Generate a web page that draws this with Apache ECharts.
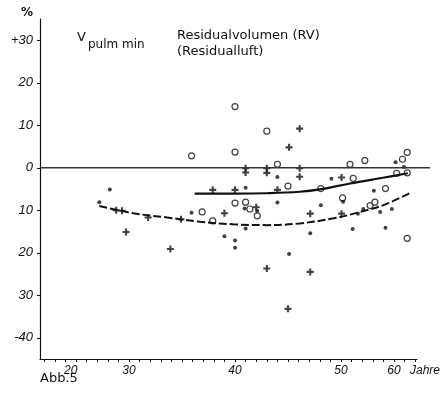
<!DOCTYPE html>
<html>
<head>
<meta charset="utf-8">
<script src="https://cdn.jsdelivr.net/npm/echarts@6/dist/echarts.min.js"></script>
<style>
  html, body { margin: 0; background: #fff; }
  #chart { width: 443px; height: 395px; }
</style>
</head>
<body>
<div id="chart"></div>
<script>
// Abb.5 Residualvolumen, Abweichung in % gegen Alter (Jahre)
const circleAge = [35.9, 40, 43, 40, 44, 45, 48.1, 51.7, 54.5, 61.6, 62.5, 60.5, 62.5, 52.3, 58.4, 36.9, 37.9, 40, 41, 41.4, 42.1, 50.3, 55.5, 56.4, 62.5]
const circleVal = [2.8, 3.7, 8.6, 14.4, 0.8, -4.3, -4.9, 0.8, 1.7, 2.0, 3.6, -1.3, -1.2, -2.5, -4.9, -10.4, -12.5, -8.3, -8.1, -9.7, -11.3, -7.1, -8.9, -8.1, -16.6]

const dotAge = [26.7, 24.9, 35.9, 41, 44, 44, 49.1, 60.3, 61.9, 56.2, 40.9, 42.1, 39, 40, 40, 41, 45.1, 47.1, 48.1, 50.4, 52.2, 54.2, 57.4, 59.6, 58.4, 53.2]
const dotVal = [-5.1, -8.1, -10.6, -4.7, -2.2, -8.2, -2.6, 1.3, 0.2, -5.4, -9.6, -10.2, -16.1, -17.1, -18.8, -14.3, -20.3, -15.4, -8.8, -8.0, -14.4, -9.7, -10.4, -9.7, -14.1, -10.8]

const crossAge = [46.1, 45.1, 41, 41, 43, 43, 46.1, 46.1, 50.1, 37.9, 40, 44, 27.8, 28.8, 31.8, 34.9, 29.5, 33.9, 39, 42, 47.1, 50.1, 43, 47.1, 45]
const crossVal = [9.2, 4.8, -0.1, -1.1, -0.1, -1.2, -0.1, -2.1, -2.3, -5.2, -5.2, -5.2, -10, -10.1, -11.7, -12.1, -15.1, -19.1, -10.7, -9.3, -10.8, -10.8, -23.7, -24.5, -33.2]

// Ausgleichskurven
const solidAge = [36.2, 40, 43, 46.1, 48, 51.7, 57.9, 62.6]
const solidVal = [-6.1, -6.1, -6.0, -5.65, -5.1, -3.7, -2.35, -1.3]
const dashAge = [24.9, 30.4, 33.6, 36.7, 39.8, 43, 46.1, 49.3, 53.6, 58, 62.9]
const dashVal = [-9.0, -10.7, -11.7, -12.7, -13.3, -13.5, -13.1, -11.9, -10.4, -8.8, -6.0]

const ageLabels = [20, 30, 40, 50, 60]
const valueLabels = [-40, -30, -20, -10, 0, 10, 20, 30]

// the printed age scale is squeezed to half outside 30..50 Jahre
function toAxis(age) {
  if (age < 30) return 30 - (30 - age) * 0.55
  if (age > 50) return 50 + (age - 50) * 0.5
  return age
}
function fromAxis(u) {
  if (u < 30) return 30 - (30 - u) / 0.55
  if (u > 50) return 50 + (u - 50) / 0.5
  return u
}
const pairs = (xs, ys) => xs.map((a, i) => [toAxis(a), ys[i]])

const xMin = 21.6, xMax = 57.17
const tickPos = []
for (let u = 22; u <= 57; u++) tickPos.push(u)

const ink = '#111'
const txt = { color: ink, fontFamily: 'DejaVu Sans', fontSize: 13, fontWeight: 'normal' }
const plus = 'path://M3.5,0h3v3.5h3.5v3h-3.5v3.5h-3v-3.5h-3.5v-3h3.5z'

const chart = echarts.init(document.getElementById('chart'))
chart.setOption({
  backgroundColor: '#fff',
  animation: false,
  title: [
    { text: 'V', left: 77, top: 31, padding: 0, textStyle: txt },
    { text: 'pulm min', left: 88, top: 39, padding: 0, textStyle: { ...txt, fontSize: 12 } },
    { text: 'Residualvolumen (RV)', left: 177, top: 29, padding: 0, textStyle: txt },
    { text: '(Residualluft)', left: 177, top: 45, padding: 0, textStyle: txt },
    { text: 'Abb.5', left: 40, top: 372, padding: 0, textStyle: txt }
  ],
  grid: [
    { left: 40, right: 26, top: 19, bottom: 36 },
    { left: 40, right: 13, top: 19, bottom: 36 }
  ],
  xAxis: [
    {
      type: 'value', gridIndex: 0, min: xMin, max: xMax,
      splitLine: { show: false },
      axisLine: { onZero: false, lineStyle: { color: ink, width: 1.2 } },
      axisTick: { customValues: tickPos, length: 3, lineStyle: { color: ink } },
      axisLabel: {
        customValues: ageLabels.map(toAxis),
        formatter: (u) => String(Math.round(fromAxis(u))),
        color: ink, fontFamily: 'Liberation Sans', fontStyle: 'italic', fontSize: 12, margin: 6
      },
      name: 'Jahre', nameLocation: 'end', nameGap: -7,
      nameTextStyle: { color: ink, fontFamily: 'Liberation Sans', fontStyle: 'italic', fontSize: 12, align: 'left', verticalAlign: 'top', padding: [6, 0, 0, 0] }
    },
    { type: 'value', gridIndex: 1, min: 0, max: 1, show: false }
  ],
  yAxis: [
    {
      type: 'value', gridIndex: 0, min: -45, max: 35,
      splitLine: { show: false },
      axisLine: { show: true, onZero: false, lineStyle: { color: ink, width: 1.2 } },
      axisTick: { show: true, customValues: valueLabels, length: 3, lineStyle: { color: ink } },
      axisLabel: {
        customValues: valueLabels,
        formatter: (v) => v === 30 ? '+30' : v === -40 ? '-40' : String(Math.abs(v)),
        color: ink, fontFamily: 'Liberation Sans', fontStyle: 'italic', fontSize: 13, margin: 7
      },
      name: '%', nameLocation: 'end', nameGap: 0,
      nameTextStyle: { color: ink, fontFamily: 'DejaVu Sans', fontWeight: 'bold', fontSize: 12, align: 'right', verticalAlign: 'bottom', padding: [0, 7, 0, 0] }
    },
    { type: 'value', gridIndex: 1, min: -45, max: 35, show: false }
  ],
  series: [
    {
      // Nulllinie, reicht etwas über die Abszisse hinaus
      type: 'line', xAxisIndex: 1, yAxisIndex: 1, data: [[0, 0], [1, 0]],
      symbol: 'none', lineStyle: { color: '#333', width: 1.6 }
    },
    {
      type: 'line', data: pairs(solidAge, solidVal), smooth: 0.4, symbol: 'none',
      lineStyle: { color: ink, width: 2.2 }
    },
    {
      type: 'line', data: pairs(dashAge, dashVal), smooth: 0.4, symbol: 'none',
      lineStyle: { color: ink, width: 2, type: [8, 3] }
    },
    {
      type: 'scatter', data: pairs(circleAge, circleVal), symbol: 'circle', symbolSize: 6,
      itemStyle: { color: '#fff', borderColor: ink, borderWidth: 1.2 }
    },
    {
      type: 'scatter', data: pairs(dotAge, dotVal), symbol: 'circle', symbolSize: 4,
      itemStyle: { color: ink }
    },
    {
      type: 'scatter', data: pairs(crossAge, crossVal), symbol: plus, symbolSize: 7,
      itemStyle: { color: ink }
    }
  ]
})
</script>
</body>
</html>
